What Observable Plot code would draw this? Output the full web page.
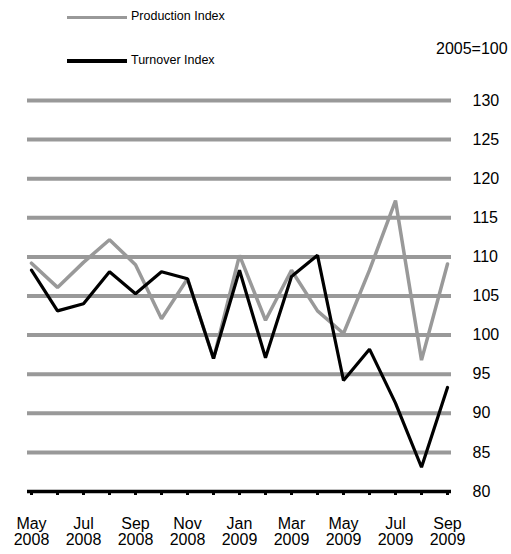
<!DOCTYPE html>
<html><head><meta charset="utf-8">
<script src="https://cdn.jsdelivr.net/npm/d3@7"></script>
<script src="https://cdn.jsdelivr.net/npm/@observablehq/plot@0.6"></script>
<style>
body{margin:0;background:#fff;font-family:"Liberation Sans",Arial,sans-serif;}
#wrap{position:relative;width:511px;height:554px;}
#head{position:relative;width:511px;height:80px;}
.leg{position:absolute;left:67px;width:60px;}
.legt{position:absolute;left:131px;font-size:12.5px;color:#000;line-height:1;}
#unit{position:absolute;left:436px;top:41px;font-size:16px;line-height:1;}
</style></head>
<body><div id="wrap">
<div id="head">
  <div class="leg" style="top:16px;height:3px;background:#999"></div>
  <div class="legt" style="top:10px">Production Index</div>
  <div class="leg" style="top:59px;height:4px;background:#000"></div>
  <div class="legt" style="top:54px">Turnover Index</div>
  <div id="unit">2005=100</div>
</div>
<div id="chart"></div>
</div>
<script>
const months = ["May 2008","Jun 2008","Jul 2008","Aug 2008","Sep 2008","Oct 2008","Nov 2008","Dec 2008","Jan 2009","Feb 2009","Mar 2009","Apr 2009","May 2009","Jun 2009","Jul 2009","Aug 2009","Sep 2009"];
const production = [109.2,106.1,109.3,112.2,109.0,102.1,107.2,97.0,110.2,101.9,108.3,103.1,100.2,108.3,117.2,96.8,109.1];
const turnover = [108.3,103.1,104.0,108.1,105.3,108.1,107.2,97.0,108.3,97.1,107.5,110.2,94.2,98.2,91.3,83.1,93.3];
const gridValues = [85,90,95,100,105,110,115,120,125,130];
const yTicks = [80,85,90,95,100,105,110,115,120,125,130];

const prodData = months.map((m,i)=>({m, v: production[i]}));
const turnData = months.map((m,i)=>({m, v: turnover[i]}));

const chart = Plot.plot({
  width: 511,
  height: 474,
  marginTop: 20,
  marginBottom: 63,
  marginLeft: 27,
  marginRight: 60,
  style: {fontFamily: '"Liberation Sans", Arial, sans-serif', fontSize: "16px", color: "#000", background: "#fff"},
  x: {type: "point", domain: months, padding: 0, label: null},
  y: {domain: [80, 130], label: null},
  marks: [
    Plot.ruleY(gridValues, {stroke: "#999", strokeWidth: 4}),
    Plot.axisX({
      ticks: months,
      tickSize: 4,
      tickPadding: 22,
      stroke: "#000",
      strokeWidth: 3,
      label: null,
      tickFormat: (d) => (months.indexOf(d) % 2 === 0 ? d.replace(" ", "\n") : ""),
      fontSize: 16,
      lineHeight: 1
    }),
    Plot.ruleY([80], {stroke: "#000", strokeWidth: 3.5}),
    Plot.axisY({
      anchor: "right",
      ticks: yTicks,
      tickSize: 0,
      tickPadding: 21,
      textAnchor: "start",
      label: null,
      fontSize: 16
    }),
    Plot.line(prodData, {x: "m", y: "v", stroke: "#999", strokeWidth: 3.5, strokeLinejoin: "miter"}),
    Plot.line(turnData, {x: "m", y: "v", stroke: "#000", strokeWidth: 3.2, strokeLinejoin: "miter"})
  ]
});
document.getElementById("chart").appendChild(chart);
</script>
</body></html>
